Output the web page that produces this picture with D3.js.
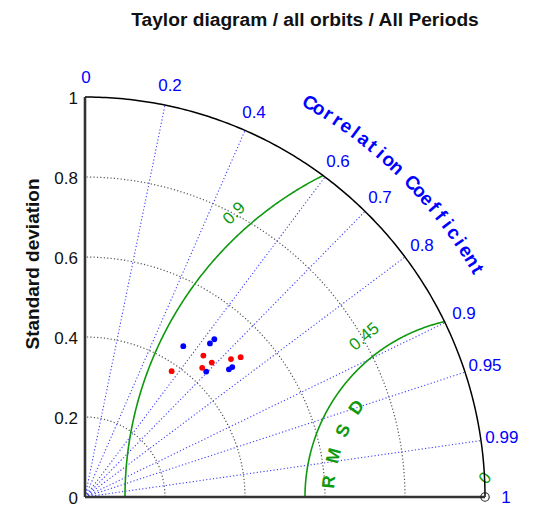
<!DOCTYPE html>
<html>
<head>
<meta charset="utf-8">
<script src="https://cdn.jsdelivr.net/npm/d3@7"></script>
<style>
  html, body { margin: 0; padding: 0; background: #fff; }
  svg { display: block; font-family: "Liberation Sans", Arial, sans-serif; }
</style>
</head>
<body>
<svg id="chart" width="538" height="519"></svg>
<script>
// Standard deviation ticks (radial axis)
const stdTicks = [0, 0.2, 0.4, 0.6, 0.8, 1];
const stdArcs = [0.2, 0.4, 0.6, 0.8];
// Correlation ticks (angular axis)
const corrLines = [0.2, 0.4, 0.6, 0.7, 0.8, 0.9, 0.95, 0.99];
const corrLabels = [0, 0.2, 0.4, 0.6, 0.7, 0.8, 0.9, 0.95, 0.99, 1];
// Centred RMS difference contours around the reference point
const rmsdLevels = [0.45, 0.9];
const rmsdLabels = ["0.45", "0.9", "0"];
const rmsdLabelValues = [0.45, 0.9, 0];

// Model statistics: standard deviation and correlation with the reference
const blueStd  = [0.450, 0.495, 0.510, 0.436, 0.481, 0.491];
const blueCorr = [0.546, 0.631, 0.634, 0.695, 0.748, 0.750];
const redStd   = [0.461, 0.462, 0.436, 0.382, 0.502, 0.523];
const redCorr  = [0.642, 0.686, 0.672, 0.567, 0.727, 0.744];

const refStd = 1;
const title = "Taylor diagram / all orbits / All Periods";
const yTitle = "Standard deviation";
const corrTitle = "Correlation Coefficient";
const rmsdTitle = "RMSD";

const svg = d3.select("#chart");
const ox = 85, oy = 497, R = 400;
const r = d3.scaleLinear().domain([0, 1]).range([0, R]);
const ang = c => Math.acos(c);               // radians from +x axis
const px = (s, c) => ox + r(s) * c;
const py = (s, c) => oy - r(s) * Math.sin(ang(c));

const green = "#0e990e", blue = "#0000ff";

// Grey dotted std-dev arcs
stdArcs.forEach(s => {
  const pts = d3.range(0, 91, 1).map(a => {
    const t = a * Math.PI / 180;
    return [ox + r(s) * Math.cos(t), oy - r(s) * Math.sin(t)];
  });
  svg.append("path").attr("d", d3.line()(pts))
    .attr("fill", "none").attr("stroke", "#555").attr("stroke-width", 1.2)
    .attr("stroke-dasharray", "1.2,2.2");
});

// Blue dotted correlation rays
corrLines.forEach(c => {
  svg.append("line")
    .attr("x1", ox).attr("y1", oy)
    .attr("x2", px(1, c)).attr("y2", py(1, c))
    .attr("stroke", "#4040ff").attr("stroke-width", 1.1)
    .attr("stroke-dasharray", "1.2,2.2");
});

// RMSD contours centred at the reference point, clipped to the outer arc
const rx = px(refStd, 1), ry = oy;
rmsdLevels.forEach(d => {
  const pts = [];
  for (let a = 0; a <= 180; a += 0.25) {
    const t = a * Math.PI / 180;
    const x = rx - r(d) * Math.cos(t), y = ry - r(d) * Math.sin(t);
    if (Math.hypot(x - ox, y - oy) <= R + 0.5) pts.push([x, y]);
  }
  svg.append("path").attr("d", d3.line()(pts))
    .attr("fill", "none").attr("stroke", green).attr("stroke-width", 1.6);
});

// RMSD labels
const rmsdPhi = [53, 48.5, 90];
const rmsdRot = [-40, -45, -50];
rmsdLabelValues.forEach((v, i) => {
  const t = rmsdPhi[i] * Math.PI / 180;
  const rr = r(v) + 19 + (i === 0 ? 2 : 0);
  const x = rx - rr * Math.cos(t), y = ry - rr * Math.sin(t);
  svg.append("text").attr("transform", `translate(${x},${y}) rotate(${rmsdRot[i]})`)
    .attr("text-anchor", "middle").attr("dominant-baseline", "central")
    .attr("font-size", 17).attr("fill", green).text(rmsdLabels[i]);
});

// "RMSD" title along the inner contour
rmsdTitle.split("").forEach((ch, i) => {
  const phi = 5.5 + i * 9.8;
  const t = phi * Math.PI / 180, rr = 157;
  const x = rx - rr * Math.cos(t), y = ry - rr * Math.sin(t);
  svg.append("text").attr("transform", `translate(${x},${y}) rotate(${phi - 90})`)
    .attr("text-anchor", "middle").attr("dominant-baseline", "central")
    .attr("font-size", 18).attr("font-weight", "bold").attr("fill", green).text(ch);
});

// Outer arc at std = 1
const outer = d3.range(0, 90.5, 0.5).map(a => {
  const t = a * Math.PI / 180;
  return [ox + R * Math.cos(t), oy - R * Math.sin(t)];
});
svg.append("path").attr("d", d3.line()(outer))
  .attr("fill", "none").attr("stroke", "#000").attr("stroke-width", 1.5);

// Axes
svg.append("line").attr("x1", ox).attr("y1", oy).attr("x2", ox).attr("y2", oy - R)
  .attr("stroke", "#333").attr("stroke-width", 2.6);
svg.append("line").attr("x1", ox).attr("y1", oy).attr("x2", ox + R).attr("y2", oy)
  .attr("stroke", "#333").attr("stroke-width", 2.4);

// Std tick labels on the left axis
stdTicks.forEach(s => {
  svg.append("text").attr("x", ox - 7).attr("y", oy - r(s) + 1)
    .attr("text-anchor", "end").attr("dominant-baseline", "central")
    .attr("font-size", 17).attr("fill", "#111").text(s);
});

// Reference point
svg.append("circle").attr("cx", rx).attr("cy", ry).attr("r", 4.2)
  .attr("fill", "none").attr("stroke", "#222").attr("stroke-width", 1.1);

// Correlation labels
corrLabels.forEach(c => {
  svg.append("text").attr("x", px(1.05, c) + 1).attr("y", py(1.05, c))
    .attr("text-anchor", "middle").attr("dominant-baseline", "central")
    .attr("font-size", 17).attr("fill", blue).text(c);
});

// "Correlation Coefficient" along an arc
const cc = corrTitle.split("");
cc.forEach((ch, i) => {
  const a = 60.3 - i * (60.3 - 30.1) / (cc.length - 1);
  const t = a * Math.PI / 180, rr = 454;
  const x = ox + rr * Math.cos(t), y = oy - rr * Math.sin(t);
  svg.append("text").attr("transform", `translate(${x},${y}) rotate(${90 - a})`)
    .attr("text-anchor", "middle").attr("dominant-baseline", "central")
    .attr("font-size", 19).attr("font-weight", "bold").attr("fill", blue).text(ch);
});

// Data points
const drawPts = (S, C, col) => S.forEach((s, i) => {
  svg.append("circle").attr("cx", px(s, C[i])).attr("cy", py(s, C[i]))
    .attr("r", 2.9).attr("fill", col);
});
drawPts(blueStd, blueCorr, "#0000ff");
drawPts(redStd, redCorr, "#ff0000");

// Titles
svg.append("text").attr("x", 305).attr("y", 26).attr("text-anchor", "middle")
  .attr("font-size", 19.2).attr("font-weight", "bold").attr("fill", "#111").text(title);
svg.append("text").attr("transform", `translate(39,264) rotate(-90)`)
  .attr("text-anchor", "middle").attr("font-size", 19).attr("font-weight", "bold")
  .attr("fill", "#111").text(yTitle);
</script>
</body>
</html>
